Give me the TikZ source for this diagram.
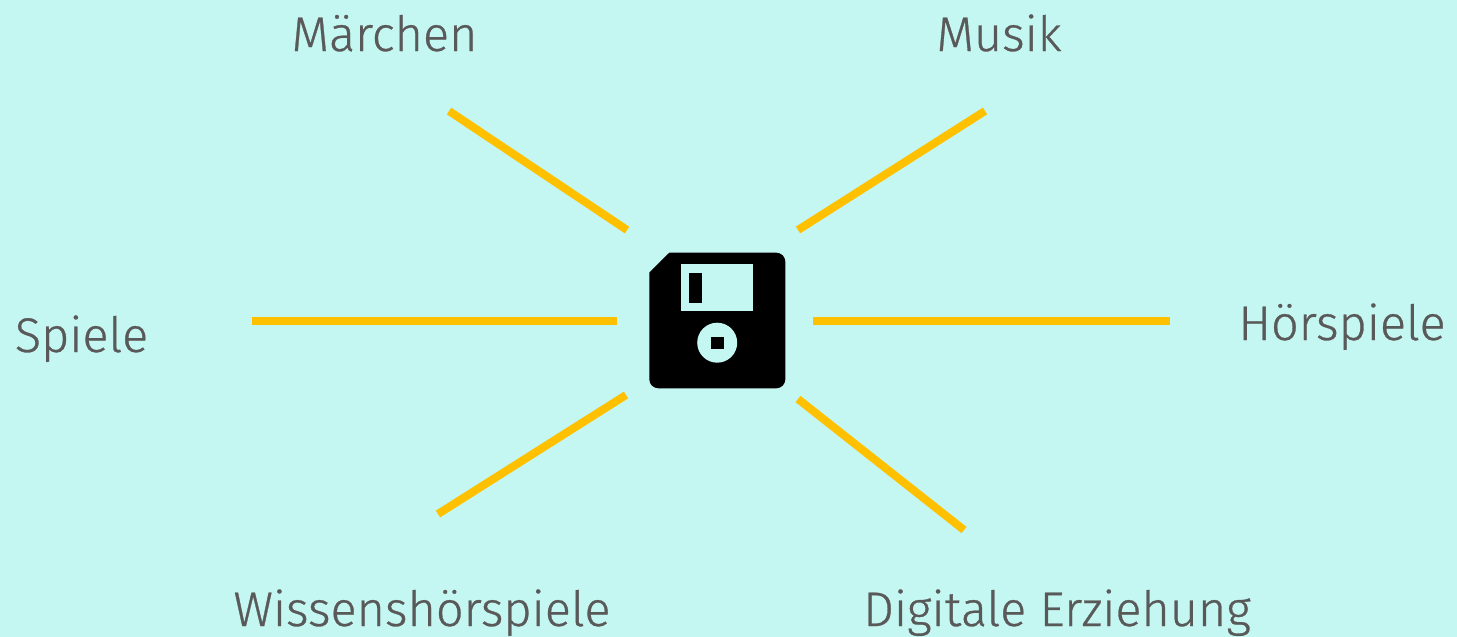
\documentclass[tikz,border=0pt]{standalone}
\usepackage{fontspec}
\setmainfont{Fira Sans Light}[RawFeature={embolden=0.6}]
\definecolor{bgc}{HTML}{C5F7F2}
\definecolor{txt}{HTML}{595959}
\definecolor{ray}{HTML}{FFC000}
\tikzset{
  lab/.style={text=txt,inner sep=0pt,anchor=base,font=\fontsize{48.6}{56}\selectfont},
  rayline/.style={draw=ray,line width=8pt}
}
\begin{document}
\begin{tikzpicture}[x=1pt,y=-1pt]
\useasboundingbox[fill=bgc] (0,0) rectangle (1457,637);
\node[lab] (maerchen) at (384.5,51) {Märchen};
\node[lab] (musik) at (999,51) {Musik};
\node[lab] (spiele) at (81.5,352) {Spiele};
\node[lab] (hoerspiele) at (1342,340) {Hörspiele};
\node[lab] (wissen) at (422,626) {Wissenshörspiele};
\node[lab] (digital) at (1057,626) {Digitale Erziehung};
\coordinate (a1) at (449,111); \coordinate (a2) at (627,230);
\coordinate (b1) at (985,111); \coordinate (b2) at (798,230);
\coordinate (c1) at (252,321); \coordinate (c2) at (617,321);
\coordinate (d1) at (1170,321); \coordinate (d2) at (813,321);
\coordinate (e1) at (438,514); \coordinate (e2) at (626,395);
\coordinate (f1) at (964,530); \coordinate (f2) at (798,399);
\draw[rayline] (a1) -- (a2);
\draw[rayline] (b1) -- (b2);
\draw[rayline] (c1) -- (c2);
\draw[rayline] (d1) -- (d2);
\draw[rayline] (e1) -- (e2);
\draw[rayline] (f1) -- (f2);
% floppy
\fill[black] (649.3,272.5) -- (669.3,252.7) -- (776.3,252.7) arc[start angle=90,end angle=0,x radius=9,y radius=-9]
  -- (785.3,379.3) arc[start angle=0,end angle=-90,x radius=9,y radius=-9]
  -- (658.3,388.3) arc[start angle=-90,end angle=-180,x radius=9,y radius=-9] -- cycle;
\fill[bgc] (681,264.3) rectangle (753.3,310.7);
\fill[black] (689,273) rectangle (702,303);
\fill[bgc] (717.2,342.7) circle[radius=20];
\fill[black] (711,337) rectangle (724,349);
\end{tikzpicture}
\end{document}
